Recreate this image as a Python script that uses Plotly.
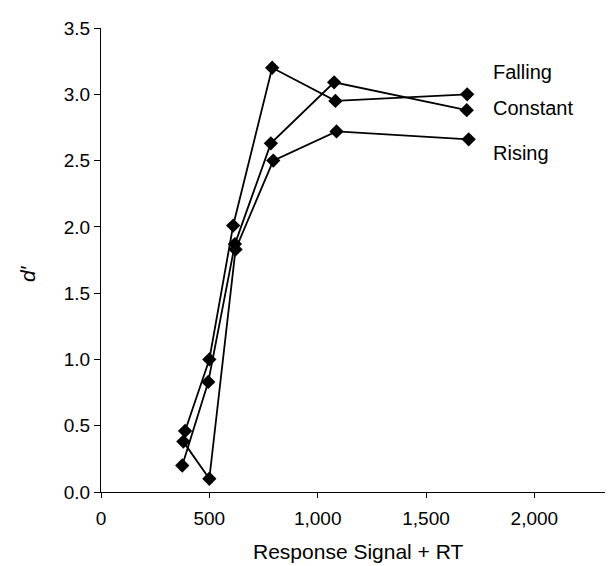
import plotly.graph_objects as go

# Data
falling_x = [388, 500, 610, 790, 1082, 1690]
falling_y = [0.46, 1.00, 2.01, 3.20, 2.95, 3.00]

constant_x = [375, 495, 618, 784, 1076, 1688]
constant_y = [0.20, 0.83, 1.87, 2.63, 3.09, 2.88]

rising_x = [380, 500, 621, 795, 1087, 1697]
rising_y = [0.38, 0.10, 1.83, 2.50, 2.72, 2.66]

series_names = ["Falling", "Constant", "Rising"]
label_y = [3.17, 2.90, 2.56]

x_tickvals = [0, 500, 1000, 1500, 2000]
x_ticktext = ["0", "500", "1,000", "1,500", "2,000"]
y_tickvals = [0.0, 0.5, 1.0, 1.5, 2.0, 2.5, 3.0, 3.5]
y_ticktext = ["0.0", "0.5", "1.0", "1.5", "2.0", "2.5", "3.0", "3.5"]

FONT = "Liberation Sans, Arial, sans-serif"

fig = go.Figure()
for name, xs, ys in zip(series_names,
                        [falling_x, constant_x, rising_x],
                        [falling_y, constant_y, rising_y]):
    fig.add_trace(go.Scatter(
        x=xs, y=ys, mode="lines+markers", name=name,
        line=dict(color="black", width=1.8),
        marker=dict(symbol="diamond", size=11, color="black"),
        showlegend=False,
    ))

for name, ly in zip(series_names, label_y):
    fig.add_annotation(x=1800, y=ly, text=name, showarrow=False,
                       xanchor="left", yanchor="middle",
                       font=dict(family=FONT, size=20, color="black"))

fig.add_annotation(x=0.495, y=-0.128, xref="paper", yref="paper",
                   text="Response Signal + RT", showarrow=False,
                   xanchor="center", yanchor="middle",
                   font=dict(family=FONT, size=21, color="black"))
fig.add_annotation(x=-0.14, y=0.47, xref="paper", yref="paper",
                   text="<i>d′</i>", showarrow=False, textangle=-90,
                   xanchor="center", yanchor="middle",
                   font=dict(family=FONT, size=21, color="black"))

fig.update_xaxes(range=[0, 2400], tickvals=x_tickvals, ticktext=x_ticktext,
                 showline=True, linecolor="black", linewidth=1,
                 ticks="outside", ticklen=5, tickcolor="black",
                 ticklabelstandoff=4,
                 showgrid=False, zeroline=False,
                 tickfont=dict(family=FONT, size=19, color="black"))
fig.update_yaxes(range=[0, 3.5], tickvals=y_tickvals, ticktext=y_ticktext,
                 showline=True, linecolor="black", linewidth=1,
                 ticks="outside", ticklen=6, tickcolor="black",
                 showgrid=False, zeroline=False,
                 tickfont=dict(family=FONT, size=19, color="black"))

fig.update_layout(width=613, height=566,
                  margin=dict(l=93, r=0, t=20, b=82),
                  plot_bgcolor="white", paper_bgcolor="white")

fig.write_html("out.html")
